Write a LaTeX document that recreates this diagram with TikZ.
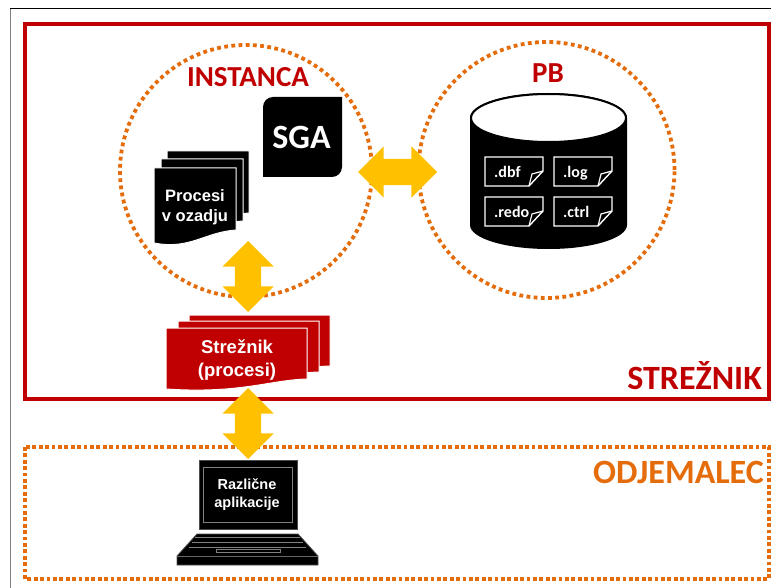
\documentclass[tikz,border=0pt]{standalone}
\usepackage{fontspec}
\setmainfont{Liberation Sans}
\newfontfamily\titlefont{Carlito}
\usetikzlibrary{ calc, positioning, shapes.arrows }
\definecolor{srvred}{HTML}{C00000}
\definecolor{cltorange}{HTML}{E46C0A}
\definecolor{arrowgold}{HTML}{FFC000}
\tikzset{
  every node/.style={inner sep=0pt},
  dotted line/.style={draw=cltorange, line width=3.8pt, dash pattern=on 3.8pt off 2.6pt},
  dotcircle/.style={circle, dotted line, dash pattern=on 3.8pt off 3.4pt},
  biarrow/.style={double arrow, fill=arrowgold, inner sep=13pt, double arrow head extend=12.5pt}, % block arrow, both ends
  title/.style={font=\titlefont\bfseries\fontsize{#1}{#1}\selectfont},
  proctext/.style 2 args={align=center, text=white, font=\bfseries\fontsize{#1}{#2}\selectfont},
  filetext/.style={text=white, anchor=base west, font=\titlefont\bfseries\fontsize{16}{16}\selectfont},
}

\begin{document}
\begin{tikzpicture}[x=1pt, y=-1pt]
  \useasboundingbox (0,0) rectangle (771,588);

  % frame of the slide
  \draw[gray, line width=1pt] (10.5,9) -- (10.5,588);
  \draw[black, line width=1pt] (10,9) -- (771,9);

  \draw[srvred, line width=4pt] (25,24) rectangle (769,399);
  \draw[dotted line] (25,447) rectangle (769,579);
  \node[title=34, text=srvred, anchor=east] (srvlabel) at (762,376) {STREŽNIK};
  \node[title=34, text=cltorange, anchor=east] (cltlabel) at (764,472.5) {ODJEMALEC};

  \node[dotcircle, minimum size=252pt] (inst) at (246,171) {};
  \node[dotcircle, minimum size=256pt] (pb) at (546.5,170) {};
  \node[title=29, text=srvred] (instlabel) at (248,77) {INSTANCA};
  \node[title=29, text=srvred] (pblabel) at (548,73) {PB};

  % SGA
  \fill (263,177) -- (263,107) arc[start angle=180, end angle=90, radius=10pt]
    -- (342,97) -- (342,167) arc[start angle=0, end angle=-90, radius=10pt] -- cycle;
  \node[title=34, text=white] (sga) at (301.5,137) {SGA};

  % background processes
  \foreach \dx/\dy in {13/-17, 7/-9, 0/0} {
    \filldraw[draw=white, fill=black, line width=1pt, shift={(\dx,\dy)}]
      (154,168) -- (236,168) -- (236,230)
      .. controls (205,232) and (190,250) .. (154,243) -- cycle;
  }
  \node[proctext={16.5}{20}] (bgproc) at (195,207) {Procesi\\v ozadju};

  % database
  \fill (470,118) -- (470,225) arc[start angle=180, end angle=360, x radius=78.5pt, y radius=24pt]
    -- (627,118) arc[start angle=0, end angle=180, x radius=78.5pt, y radius=25pt] -- cycle;
  \filldraw[draw=black, fill=white, line width=2pt] (548.5,118) ellipse (77.5pt and 24pt);
  \foreach \fx/\fy/\fname in {485/157/.dbf, 554/157/.log, 485/197/.redo, 554/197/.ctrl} {
    \begin{scope}[shift={(\fx,\fy)}]
      \filldraw[draw=white, fill=black, line width=1.4pt]
        (0,0) -- (58,0) -- (58,14) -- (44,29) -- (0,29) -- cycle;
      \draw[white, line width=1.2pt] (58,14) -- (47,17) -- (44,29);
      \node[filetext] at (9,21) {\fname};
    \end{scope}
  }

  % server processes
  \foreach \dx/\dy in {23/-13, 12/-7, 0/0} {
    \filldraw[draw=white, fill=srvred, line width=1pt, shift={(\dx,\dy)}]
      (166,328) -- (307,328) -- (307,379)
      .. controls (270,380) and (240,394) .. (166,389) -- cycle;
  }
  \node[proctext={18.5}{23}] (srvproc) at (237,360) {Strežnik\\(procesi)};

  % client laptop
  \filldraw[draw=black!70, fill=black, line width=.8pt] (199,460) rectangle (297,529);
  \draw[gray, line width=1pt] (203.5,467) rectangle (292.5,522);
  \filldraw[draw=black!70, fill=black, line width=.8pt]
    (197,534) -- (298,534) -- (318,556) -- (318,565) -- (177,565) -- (177,556) -- cycle;
  \draw[black!60, line width=.8pt] (177,556) -- (318,556);
  \foreach \ky/\kin in {537/195, 542/192, 547/189} {
    \draw[gray, line width=1pt] ({\kin},\ky) -- ({495-\kin},\ky);
  }
  \draw[gray, line width=.8pt] (216,549.5) rectangle (280,552.5);
  \node[proctext={14.5}{18}] (apps) at (247,495) {Različne\\aplikacije};

  % links
  \node[biarrow, minimum height=79pt] (linkpb) at (397.5,172) {};
  \node[biarrow, shape border rotate=90, minimum height=71pt] (linkinst) at (248,276.5) {};
  \node[biarrow, shape border rotate=90, minimum height=71pt] (linkclt) at (248,423.5) {};
\end{tikzpicture}
\end{document}
